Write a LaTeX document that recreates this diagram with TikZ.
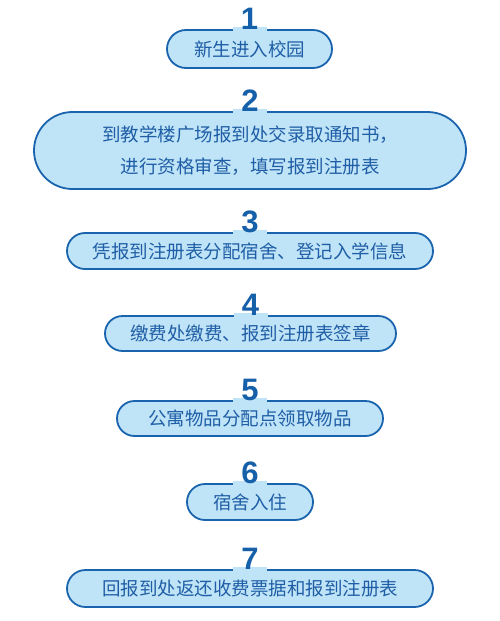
\documentclass[tikz,border=0pt]{standalone}
\usepackage{fontspec}
\newfontfamily\cjk{Noto Sans CJK SC}
\newfontfamily\numfont{Liberation Sans}
\definecolor{boxline}{HTML}{1A64AE}
\definecolor{boxfill}{HTML}{C0E4F7}
\definecolor{boxtext}{HTML}{1F5EA6}
\definecolor{numcol}{HTML}{1560A8}
\tikzset{
  stepbox/.style={draw=boxline, fill=boxfill, line width=1.8pt, text=boxtext,
    font=\cjk\fontsize{18.5}{32}\selectfont, align=center, inner sep=0pt},
  numlabel/.style={text=numcol, font=\numfont\bfseries\fontsize{31}{31}\selectfont,
    anchor=base, inner sep=0pt},
  notch/.style={fill=boxfill}
}
\newcommand{\stepitem}[7]{%
  % #1 name, #2 left, #3 top, #4 right, #5 bottom, #6 number, #7 text
  \pgfmathsetmacro{\bw}{#4-#2}\pgfmathsetmacro{\bh}{#5-#3}%
  \pgfmathsetmacro{\bx}{(#2+#4)/2}\pgfmathsetmacro{\by}{(#3+#5)/2}%
  \pgfmathsetmacro{\br}{\bh/2}%
  \node[stepbox, minimum width=\bw pt, minimum height=\bh pt, rounded corners=\br pt] (#1) at (\bx,\by) {#7};
  \fill[notch] ([xshift=-17pt,yshift=-3.5pt]#1.north) rectangle ([xshift=17pt,yshift=2.5pt]#1.north);
  \node[numlabel] (#1n) at ([yshift=-0.5pt]#1.north) {#6};
}
\begin{document}
\begin{tikzpicture}[x=1pt,y=-1pt]
\useasboundingbox (0,0) rectangle (500,621);
\stepitem{b1}{167}{30}{332}{68}{1}{新生进入校园}
\stepitem{b2}{34}{112}{466}{189}{2}{到教学楼广场报到处交录取通知书，\\进行资格审查，填写报到注册表}
\stepitem{b3}{67}{233}{433}{269}{3}{凭报到注册表分配宿舍、登记入学信息}
\stepitem{b4}{105}{316}{396}{351}{4}{缴费处缴费、报到注册表签章}
\stepitem{b5}{117}{401}{383}{436}{5}{公寓物品分配点领取物品}
\stepitem{b6}{187}{484}{313}{520}{6}{宿舍入住}
\stepitem{b7}{67}{570}{433}{607}{7}{回报到处返还收费票据和报到注册表}
\end{tikzpicture}
\end{document}
